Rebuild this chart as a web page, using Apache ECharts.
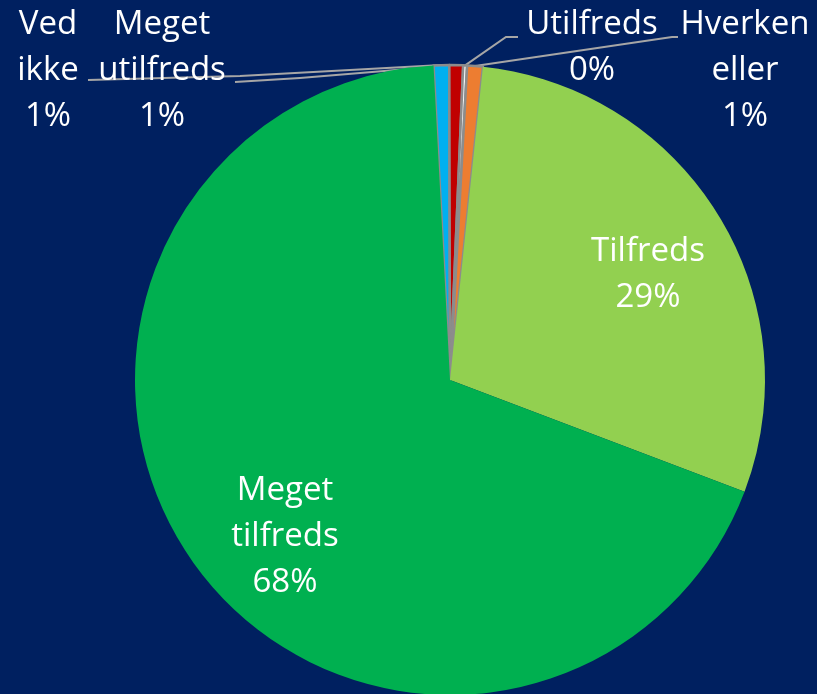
<!DOCTYPE html>
<html>
<head>
<meta charset="utf-8">
<script src="https://cdn.jsdelivr.net/npm/echarts@6/dist/echarts.min.js"></script>
<style>
  html, body { margin: 0; padding: 0; background: #002060; }
  #chart { width: 817px; height: 694px; }
</style>
</head>
<body>
<div id="chart"></div>
<script>
// clockwise from just left of 12 o'clock
const categories = ['Ved ikke', 'Meget utilfreds', 'Utilfreds', 'Hverken eller', 'Tilfreds', 'Meget tilfreds']
const values = [0.8, 0.7, 0.2, 0.8, 29.1, 68.4]
const colors = ['#00B0F0', '#C00000', '#F2F2F2', '#ED7D31', '#92D050', '#00B050']

// where each label sits, and where its leader line ends / bends
const labelSpots = {
  'Ved ikke': { x: 48, y: 71, end: [88, 80], bend: [240, 76] },
  'Meget utilfreds': { x: 162, y: 71, end: [235, 82], bend: [300, 78] },
  'Utilfreds': { x: 592, y: 48, end: [518, 37], bend: [506, 37] },
  'Hverken eller': { x: 745, y: 71, end: [678, 37], bend: [672, 37] },
  'Tilfreds': { x: 648, y: 275 },
  'Meget tilfreds': { x: 285, y: 537 },
}

const chart = echarts.init(document.getElementById('chart'))
chart.setOption({
  backgroundColor: '#002060',
  animation: false,
  series: [
    {
      type: 'pie',
      center: [450, 380],
      radius: 315,
      startAngle: 93,
      clockwise: true,
      percentPrecision: 0,
      avoidLabelOverlap: false,
      label: {
        show: true,
        position: 'outside',
        color: '#FFFFFF',
        fontFamily: 'Open Sans',
        fontSize: 33,
        lineHeight: 46,
        formatter: (p) => p.name.replace(' ', '\n') + '\n' + p.percent + '%',
      },
      labelLine: {
        show: true,
        lineStyle: { color: '#A6A6A6', width: 2 },
      },
      labelLayout: (p) => {
        const s = labelSpots[categories[p.dataIndex]]
        const out = { x: s.x, y: s.y, align: 'center', verticalAlign: 'middle' }
        if (s.end && p.labelLinePoints) {
          out.labelLinePoints = [p.labelLinePoints[0], s.bend, s.end]
        }
        return out
      },
      data: categories.map((name, i) => ({
        name,
        value: values[i],
        // only the thin slices carry the grey outline
        itemStyle: i < 4
          ? { color: colors[i], borderColor: '#8C8C8C', borderWidth: 2.5 }
          : { color: colors[i], borderWidth: 0 },
        label: i >= 4 ? { position: 'inside' } : undefined,
        labelLine: i >= 4 ? { show: false } : undefined,
      })),
    },
  ],
})
</script>
</body>
</html>
